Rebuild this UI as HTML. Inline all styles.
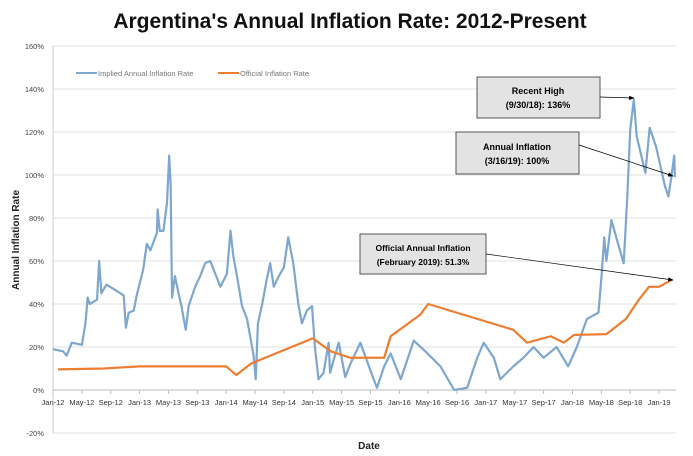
<!DOCTYPE html>
<html><head><meta charset="utf-8"><style>
body{margin:0;background:#fff;width:693px;height:451px;overflow:hidden;font-family:"Liberation Sans",sans-serif}
</style></head><body>
<svg id="chart" width="693" height="451" xmlns="http://www.w3.org/2000/svg">
<defs><marker id="ah" markerWidth="8" markerHeight="6" refX="7" refY="3" orient="auto"><path d="M0,0L8,3L0,6z" fill="#000"/></marker></defs>
<text x="350" y="28" text-anchor="middle" font-size="21" font-weight="bold" fill="#111">Argentina's Annual Inflation Rate: 2012-Present</text>
<text transform="translate(19,240) rotate(-90)" text-anchor="middle" font-size="10" font-weight="bold" fill="#222">Annual Inflation Rate</text>
<text x="369" y="449" text-anchor="middle" font-size="10" font-weight="bold" fill="#222">Date</text>
<g id="grid"></g><g id="series"></g>
<g font-size="7.5" fill="#777">
<line x1="76" y1="73" x2="97" y2="73" stroke="#7ea7d0" stroke-width="2"/><text x="98" y="76">Implied Annual Inflation Rate</text>
<line x1="218" y1="73" x2="239" y2="73" stroke="#ed7d31" stroke-width="2"/><text x="240" y="76">Official Inflation Rate</text>
</g>
<g>
<rect x="477" y="77" width="123" height="41" fill="#e3e3e3" stroke="#555"/>
<text x="538" y="94" text-anchor="middle" font-size="9" font-weight="bold">Recent High</text>
<text x="538" y="108" text-anchor="middle" font-size="9" font-weight="bold">(9/30/18): 136%</text>
<line x1="600" y1="97" x2="634" y2="98" stroke="#000" stroke-width="0.7" marker-end="url(#ah)"/>
</g>
<g>
<rect x="456" y="132" width="123" height="42" fill="#e3e3e3" stroke="#555"/>
<text x="517" y="150" text-anchor="middle" font-size="9" font-weight="bold">Annual Inflation</text>
<text x="517" y="164" text-anchor="middle" font-size="9" font-weight="bold">(3/16/19): 100%</text>
<line x1="579" y1="145" x2="673" y2="176" stroke="#000" stroke-width="0.7" marker-end="url(#ah)"/>
</g>
<g>
<rect x="360" y="234" width="126" height="40" fill="#e3e3e3" stroke="#555"/>
<text x="423" y="251" text-anchor="middle" font-size="8.5" font-weight="bold">Official Annual Inflation</text>
<text x="423" y="265" text-anchor="middle" font-size="8.5" font-weight="bold">(February 2019): 51.3%</text>
<line x1="486" y1="254" x2="673" y2="280" stroke="#000" stroke-width="0.7" marker-end="url(#ah)"/>
</g>
</svg>
<script>
const yTicks=[160,140,120,100,80,60,40,20,0,-20];
const xLabels=["Jan-12","May-12","Sep-12","Jan-13","May-13","Sep-13","Jan-14","May-14","Sep-14","Jan-15","May-15","Sep-15","Jan-16","May-16","Sep-16","Jan-17","May-17","Sep-17","Jan-18","May-18","Sep-18","Jan-19"];
const impliedMonths=[0,1.4,1.9,2.6,4,4.5,4.8,5.1,6.1,6.4,6.7,7.4,8.4,9.8,10.1,10.5,11.2,11.6,12.5,13,13.5,14.4,14.5,14.8,15.3,15.8,16.1,16.3,16.5,16.9,17.4,17.8,18.4,18.8,19.7,20.4,21.1,21.8,22.5,23.2,24.1,24.6,25,25.5,26.2,26.9,27.8,28.1,28.4,29,29.6,30.1,30.6,31.3,32,32.6,33.3,34,34.5,35.2,35.9,36.3,36.8,37.5,38.2,38.4,38.9,39.6,40.5,41.2,42.6,44,44.9,45.9,46.8,48.2,50,51.9,53.7,55.6,57.4,58.8,59.7,61.1,62,63.8,65.2,66.6,68,69.8,71.4,72.6,74,75.6,76.1,76.4,76.7,77.4,78.4,79.1,79.6,80,80.5,80.9,82.1,82.7,83.6,84.8,85.3,85.7,86.1,86.2];
const impliedValues=[19,18,16,22,21,31,43,40,42,60,45,49,47,44,29,36,37,44,56,68,65,73,84,74,74,87,109,96,43,53,45,39,28,39,48,53,59,60,54,48,54,74,62,53,39,33,16,5,31,40,51,59,48,53,57,71,59,40,31,37,39,20,5,8,22,8,14,22,6,12,22,9,1,11,17,5,23,17,11,0,1,15,22,15,5,11,15,20,15,20,11,20,33,36,56,71,60,79,67,59,90,121,135,118,101,122,113,95,90,99,109,99];
const officialMonths=[0.7,7,12,24,25.4,27.5,36,38.5,41.2,45.9,46.8,50.9,52,63.8,65.7,69,70.8,72.2,76.7,79.4,81.2,82.6,84,85.8];
const officialValues=[9.6,10,11,11,7,12.4,24,18,15,15,25,35,40,28,22,25,22,25.6,26,33,42,48,48,51.3];
const svg=document.getElementById('chart'),NS='http://www.w3.org/2000/svg';
const X=m=>53+m*7.215, Y=v=>390-v*2.15;
const grid=document.getElementById('grid'),series=document.getElementById('series');
function mk(t,a,p){const e=document.createElementNS(NS,t);for(const k in a)e.setAttribute(k,a[k]);p.appendChild(e);return e;}
yTicks.forEach(v=>{
 const l=mk('line',{x1:53,x2:676,y1:Y(v),y2:Y(v),stroke:v===0?'#bbb':'#e0e0e0','stroke-width':1},grid);
 
 
 const t=mk('text',{x:44,y:Y(v)+3,'text-anchor':'end','font-size':7.5,fill:'#444'},grid);t.textContent=v+'%';
 
 
});
mk('line',{x1:53,x2:53,y1:Y(160),y2:Y(-20),stroke:'#ccc'},grid);
xLabels.forEach((s,i)=>{
 const x=X(i*4);
 mk('line',{x1:x,x2:x,y1:390,y2:394,stroke:'#bbb'},grid);
 const t=mk('text',{x:x,y:405,'text-anchor':'middle','font-size':7.5,fill:'#333'},grid);t.textContent=s;
 
 
});
function line(ms,vs,col,w,name){
 const p=mk('polyline',{points:ms.map((m,i)=>X(m)+','+Y(vs[i])).join(' '),fill:'none',stroke:col,'stroke-width':w,'stroke-linejoin':'round'},series);
 
 
}
line(impliedMonths,impliedValues,'#7ea7d0',2.2,'implied-inflation-line');
line(officialMonths,officialValues,'#ed7d31',2.2,'official-inflation-line');
</script>
</body></html>
